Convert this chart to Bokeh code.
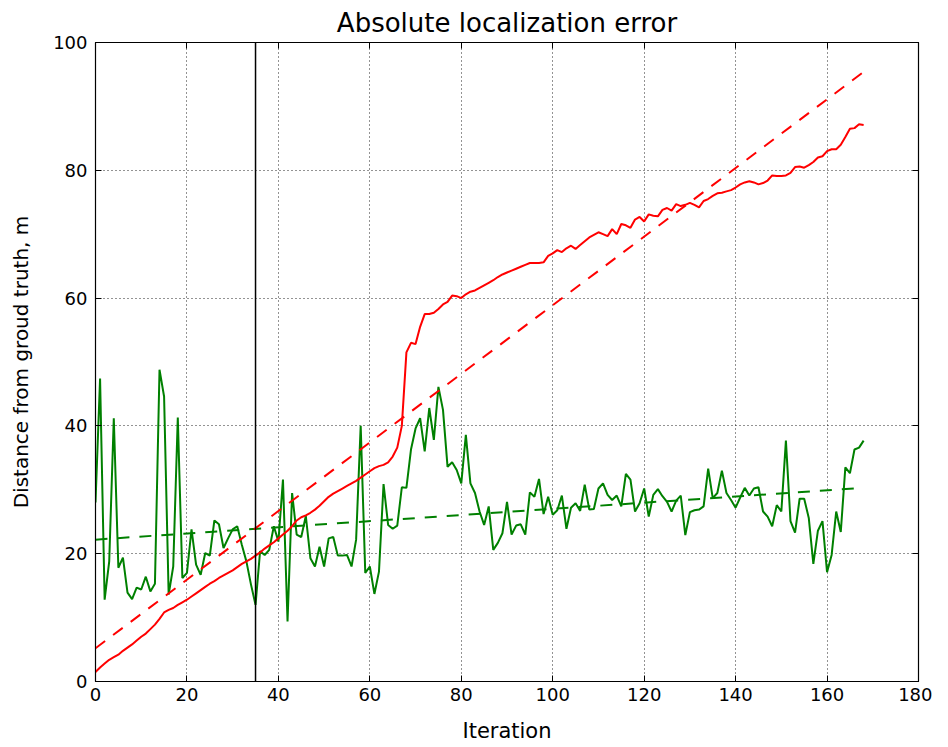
from bokeh.plotting import figure
from bokeh.models import Range1d, FixedTicker, LinearAxis, Span
from bokeh.embed import file_html
from bokeh.resources import INLINE

title_text = "Absolute localization error"
x_label = "Iteration"
y_label = "Distance from groud truth, m"

iterations = list(range(169))

red_error = [
    1.5, 2.2, 2.8, 3.4, 3.8, 4.2, 4.8, 5.3, 5.8, 6.4,
    7.0, 7.5, 8.2, 8.9, 9.8, 10.8, 11.2, 11.5, 12.0, 12.4,
    12.8, 13.3, 13.8, 14.3, 14.8, 15.3, 15.7, 16.2, 16.6, 17.0,
    17.4, 17.9, 18.4, 18.8, 19.2, 19.7, 20.2, 20.8, 21.3, 21.8,
    22.4, 23.0, 23.6, 24.3, 25.2, 25.7, 26.0, 26.4, 26.9, 27.5,
    28.2, 28.9, 29.4, 29.8, 30.2, 30.6, 31.0, 31.4, 31.9, 32.4,
    32.9, 33.4, 33.7, 33.9, 34.3, 35.2, 36.6, 40.0, 51.5, 53.0,
    52.8, 55.5, 57.5, 57.5, 57.7, 58.3, 59.0, 59.4, 60.4, 60.3,
    60.0, 60.6, 61.0, 61.2, 61.6, 62.0, 62.4, 62.8, 63.3, 63.7,
    64.0, 64.3, 64.6, 64.9, 65.2, 65.5, 65.5, 65.5, 65.6, 66.6,
    67.0, 67.5, 67.2, 67.8, 68.2, 67.7, 68.3, 68.9, 69.5, 69.9,
    70.3, 70.0, 69.7, 70.8, 70.0, 71.6, 71.4, 71.0, 72.3, 72.7,
    72.0, 73.1, 72.9, 72.8, 73.8, 74.1, 73.7, 74.7, 74.4, 74.6,
    74.9, 74.6, 74.2, 75.2, 75.5, 76.0, 76.4, 76.5, 76.7, 76.9,
    77.3, 77.8, 78.1, 78.3, 78.1, 77.8, 78.0, 78.4, 79.2, 79.1,
    79.1, 79.2, 79.6, 80.5, 80.6, 80.4, 80.8, 81.3, 82.0, 82.2,
    83.0, 83.3, 83.3, 84.0, 85.2, 86.5, 86.6, 87.2, 87.1,
]

green_error = [
    28.0, 47.4, 12.8, 18.8, 41.2, 17.8, 19.4, 13.9, 12.9, 14.7,
    14.4, 16.4, 14.1, 15.3, 48.8, 44.6, 13.6, 18.0, 41.3, 16.2,
    17.0, 23.8, 18.3, 16.7, 20.1, 19.7, 25.2, 24.6, 20.9, 22.4,
    23.8, 24.3, 21.4, 18.8, 15.2, 12.0, 20.4, 19.8, 20.6, 24.3,
    21.9, 31.6, 9.4, 29.5, 23.0, 22.6, 25.9, 19.3, 18.0, 21.1,
    18.0, 22.4, 22.6, 19.7, 19.7, 19.8, 18.0, 22.2, 40.0, 17.0,
    18.0, 13.7, 17.2, 30.9, 24.5, 23.9, 24.4, 30.4, 30.3, 36.3,
    39.6, 41.2, 36.0, 42.8, 37.8, 46.1, 42.5, 33.6, 34.3, 33.1,
    31.0, 38.6, 31.0, 29.5, 26.6, 24.5, 27.4, 20.6, 21.7, 23.2,
    28.1, 23.0, 24.4, 24.6, 23.0, 29.6, 28.9, 31.7, 26.2, 28.9,
    26.1, 26.8, 29.1, 23.9, 27.2, 27.9, 26.7, 30.8, 26.9, 27.0,
    30.2, 31.0, 29.2, 28.4, 29.1, 27.4, 32.5, 31.6, 26.6, 27.9,
    30.2, 25.8, 29.2, 30.1, 29.0, 28.1, 26.6, 28.3, 29.1, 22.9,
    26.5, 26.8, 26.9, 27.4, 33.3, 28.7, 29.5, 33.0, 29.5, 28.4,
    27.2, 28.8, 30.3, 29.1, 30.2, 30.4, 26.6, 25.8, 24.3, 27.6,
    26.6, 37.7, 25.1, 23.3, 28.6, 28.6, 25.6, 18.4, 23.6, 25.1,
    17.1, 19.8, 26.6, 23.4, 33.5, 32.6, 36.3, 36.6, 37.7,
]

trend_x = [0, 168]
red_trend = [5.2, 95.4]
green_trend = [22.2, 30.3]

marker_iteration = 35

x_ticks = [0, 20, 40, 60, 80, 100, 120, 140, 160, 180]
y_ticks = [0, 20, 40, 60, 80, 100]

FONT = "DejaVu Sans"

p = figure(width=932, height=745, x_range=Range1d(0, 180), y_range=Range1d(0, 100),
           output_backend="svg", toolbar_location=None,
           min_border_left=95, min_border_right=14, min_border_top=42, min_border_bottom=64)
p.background_fill_color = "white"
p.border_fill_color = "white"
p.outline_line_color = "black"
p.outline_line_width = 1.2

p.title.text = title_text
p.title.align = "center"
p.title.text_font = FONT
p.title.text_font_size = "26px"
p.title.text_font_style = "normal"
p.title.text_color = "black"
p.title.offset = 0

for ax, ticks in ((p.xaxis[0], x_ticks), (p.yaxis[0], y_ticks)):
    ax.ticker = FixedTicker(ticks=ticks)
    ax.major_tick_in = 6
    ax.major_tick_out = 0
    ax.minor_tick_line_color = None
    ax.axis_line_color = "black"
    ax.major_tick_line_color = "black"
    ax.major_label_text_font = FONT
    ax.major_label_text_font_size = "18px"
    ax.major_label_text_color = "black"
    ax.axis_label_text_font = FONT
    ax.axis_label_text_font_size = "20px"
    ax.axis_label_text_font_style = "normal"
    ax.axis_label_text_color = "black"

p.xaxis[0].axis_label = x_label
p.yaxis[0].axis_label = y_label
p.xaxis[0].axis_label_text_font_size = "21px"
p.xaxis[0].major_label_standoff = 6
p.yaxis[0].major_label_standoff = 8
p.xaxis[0].axis_label_standoff = 15
p.yaxis[0].axis_label_standoff = 17

for loc, ticks in (("right", y_ticks), ("above", x_ticks)):
    ax = LinearAxis(ticker=FixedTicker(ticks=ticks), major_tick_in=6, major_tick_out=0,
                    minor_tick_line_color=None, major_label_text_font_size="0px",
                    major_label_standoff=0, axis_line_color="black")
    p.add_layout(ax, loc)

p.xgrid.ticker = FixedTicker(ticks=x_ticks)
p.ygrid.ticker = FixedTicker(ticks=y_ticks)
p.grid.grid_line_color = "black"
p.grid.grid_line_dash = "1 3"
p.grid.grid_line_width = 1
p.grid.grid_line_alpha = 0.85

p.line(iterations, green_error, line_color="#008000", line_width=2)
p.line(trend_x, green_trend, line_color="#008000", line_width=2, line_dash="12 10")
p.line(iterations, red_error, line_color="#ff0000", line_width=2)
p.line(trend_x, red_trend, line_color="#ff0000", line_width=2, line_dash="12 10")

p.add_layout(Span(location=marker_iteration, dimension="height", line_color="black", line_width=1.5))

open("out.html", "w").write(file_html(p, INLINE))
